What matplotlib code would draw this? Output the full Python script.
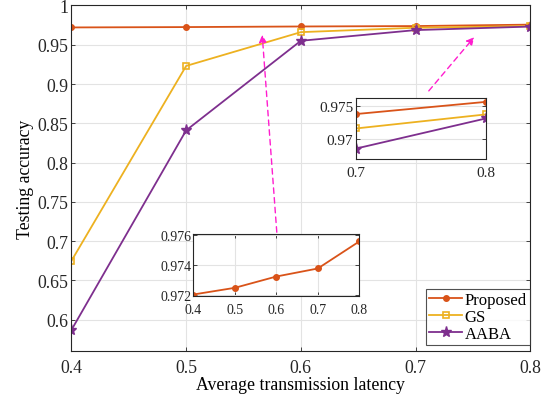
import matplotlib
matplotlib.use("Agg")
import matplotlib.pyplot as plt

plt.rcParams["font.family"] = ["Liberation Serif", "DejaVu Serif"]
plt.rcParams["mathtext.fontset"] = "stix"

latency = [0.4, 0.5, 0.6, 0.7, 0.8]
proposed = [0.9720, 0.97245, 0.97321, 0.97375, 0.97557]
gs = [0.675, 0.923, 0.966, 0.9716, 0.9737]
aaba = [0.587, 0.841, 0.955, 0.9686, 0.9731]

c_prop = "#D95319"
c_gs = "#EDB120"
c_aaba = "#7E2F8E"
c_arrow = "#FF1DCE"


def style_axes(ax, size):
    ax.grid(True, color="#e3e3e3", linewidth=0.8)
    ax.set_axisbelow(True)
    ax.tick_params(direction="in", top=True, right=True, labelsize=size,
                   length=3, width=0.6, colors="#262626")
    for s in ax.spines.values():
        s.set_linewidth(0.8)
        s.set_color("#262626")


fig = plt.figure(figsize=(5.54, 4.02), dpi=100)
ax = fig.add_axes([0.129, 0.124, 0.828, 0.860])
style_axes(ax, 12.8)

ax.plot(latency, proposed, color=c_prop, marker="o", ms=4, lw=1.3, label="Proposed")
ax.plot(latency, gs, color=c_gs, marker="s", ms=4.5, mfc="none", mew=1.2, lw=1.3, label="GS")
ax.plot(latency, aaba, color=c_aaba, marker="*", ms=8, lw=1.3, label="AABA")
ax.set_xlim(0.4, 0.8)
ax.set_ylim(0.56, 1.0)
ax.set_xticks([0.4, 0.5, 0.6, 0.7, 0.8])
ax.set_xticklabels(["0.4", "0.5", "0.6", "0.7", "0.8"])
ax.set_yticks([0.6, 0.65, 0.7, 0.75, 0.8, 0.85, 0.9, 0.95, 1.0])
ax.set_yticklabels(["0.6", "0.65", "0.7", "0.75", "0.8", "0.85", "0.9", "0.95", "1"])
ax.tick_params(axis="x", pad=6)
ax.tick_params(axis="y", pad=2.5)
ax.set_xlabel("Average transmission latency", fontsize=12.8, labelpad=0)
ax.set_ylabel("Testing accuracy", fontsize=12.8, labelpad=2)
leg = ax.legend(loc="lower right", bbox_to_anchor=(1.0, 0.017), fontsize=12,
                frameon=True, fancybox=False, edgecolor="#262626",
                handlelength=2.0, handletextpad=0.15, borderpad=0.2,
                labelspacing=0.05, borderaxespad=0.0)
leg.get_frame().set_linewidth(0.8)

# inset 1: proposed across whole range
W, H = 554, 402
ax1 = fig.add_axes([193.3 / W, 1 - 297.3 / H, (359.3 - 193.3) / W, (297.3 - 235.3) / H])
style_axes(ax1, 10)
ax1.plot(latency, proposed, color=c_prop, marker="o", ms=4, lw=1.3)
ax1.set_xlim(0.4, 0.8)
ax1.set_ylim(0.97188, 0.97605)
ax1.set_xticks([0.4, 0.5, 0.6, 0.7, 0.8])
ax1.set_xticklabels(["0.4", "0.5", "0.6", "0.7", "0.8"])
ax1.set_yticks([0.972, 0.974, 0.976])
ax1.set_yticklabels(["0.972", "0.974", "0.976"])
ax1.tick_params(axis="x", pad=5)
ax1.tick_params(axis="y", pad=1.5)

# inset 2: zoom at 0.7-0.8
ax2 = fig.add_axes([356 / W, 1 - 160.3 / H, (486 - 356) / W, (160.3 - 99.3) / H])
style_axes(ax2, 11)
ax2.plot(latency[3:], proposed[3:], color=c_prop, marker="o", ms=4, lw=1.3)
ax2.plot(latency[3:], gs[3:], color=c_gs, marker="s", ms=4.5, mfc="none", mew=1.2, lw=1.3)
ax2.plot(latency[3:], aaba[3:], color=c_aaba, marker="*", ms=8, lw=1.3)
ax2.set_xlim(0.7, 0.8)
ax2.set_ylim(0.967, 0.9761)
ax2.set_xticks([0.7, 0.8])
ax2.set_xticklabels(["0.7", "0.8"])
ax2.set_yticks([0.97, 0.975])
ax2.set_yticklabels(["0.97", "0.975"])
ax2.tick_params(axis="x", pad=5)
ax2.tick_params(axis="y", pad=2)

# dashed arrows (figure pixel coords)
for tail, head in [((277, 236), (262, 33)), ((427, 94), (476, 36))]:
    fig.add_artist(matplotlib.patches.FancyArrowPatch(
        (tail[0] / W, 1 - tail[1] / H), (head[0] / W, 1 - head[1] / H),
        transform=fig.transFigure, arrowstyle="-|>", mutation_scale=11,
        color=c_arrow, lw=1.0, linestyle=(0, (4, 3))))

fig.savefig("out.png", dpi=100)
